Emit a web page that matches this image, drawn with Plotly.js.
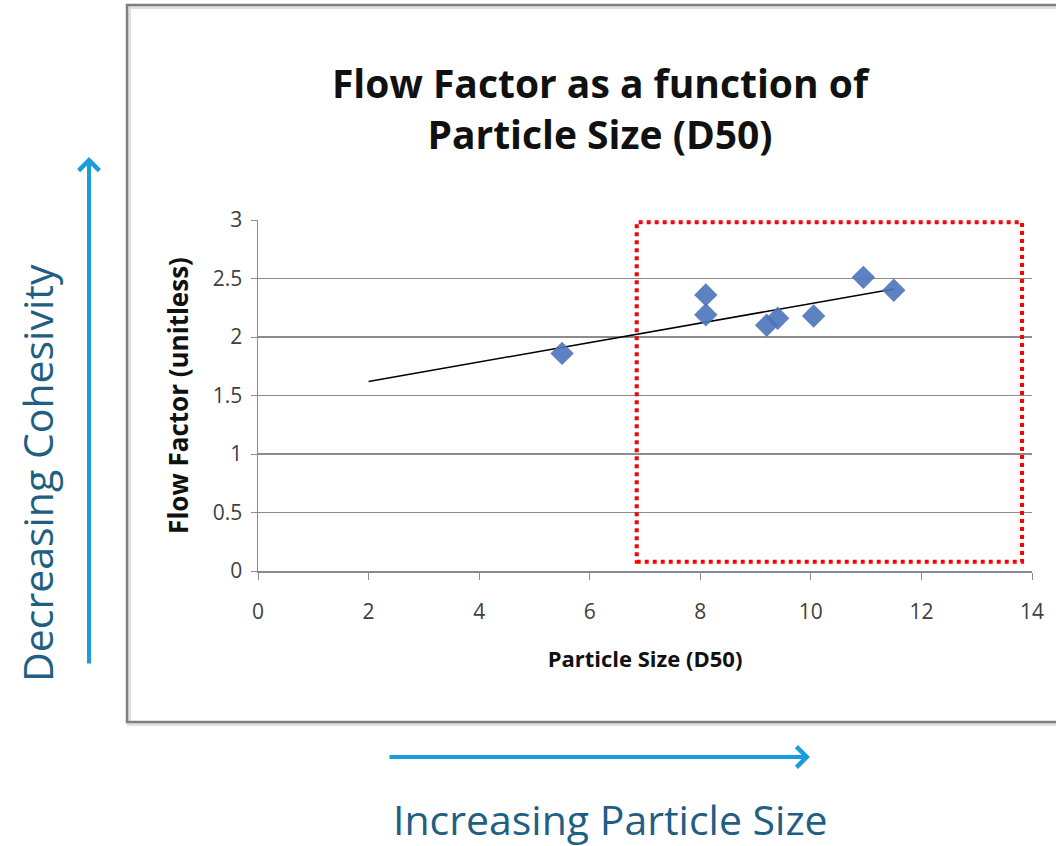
<!DOCTYPE html>
<html><head><meta charset="utf-8">
<script src="https://cdn.plot.ly/plotly-3.0.1.min.js"></script>
<style>html,body{margin:0;padding:0;background:#fff;overflow:hidden}#chart{width:1056px;height:846px}</style>
</head><body><div id="chart"></div>
<script>
// ---- data ----
const particleSize = [5.5, 8.1, 8.1, 9.2, 9.4, 10.05, 10.95, 11.5];
const flowFactor   = [1.86, 2.36, 2.19, 2.10, 2.16, 2.18, 2.51, 2.40];
const trendX = [2, 11.5];
const trendY = [1.62, 2.41];
const xTickVals = [0, 2, 4, 6, 8, 10, 12, 14];
const yTickVals = [0, 0.5, 1, 1.5, 2, 2.5, 3];
const yTickText = ['0', '0.5', '1', '1.5', '2', '2.5', '3'];
const chartTitle = 'Flow Factor as a function of<br>Particle Size (D50)';
const xTitle = 'Particle Size (D50)';
const yTitle = 'Flow Factor (unitless)';
const sideLabel = 'Decreasing Cohesivity';
const bottomLabel = 'Increasing Particle Size';
const focusRegion = {x0: 6.85, x1: 13.82, y0: 0.08, y1: 2.98};

// ---- geometry ----
const W = 1056, H = 846;
const M = {l: 258, r: 24, t: 220, b: 275};
const PW = W - M.l - M.r, PH = H - M.t - M.b;
const px = v => (v - M.l) / PW;          // pixel x -> paper x
const py = v => (H - M.b - v) / PH;      // pixel y -> paper y

const chartFont = '"Open Sans", "Noto Sans", sans-serif';
const slideFont = '"Open Sans", "Noto Sans", sans-serif';
const arrowBlue = '#1B9DDB';
const slideText = '#1F5F84';

const traces = [
  {x: trendX, y: trendY, mode: 'lines', type: 'scatter',
   line: {color: '#000000', width: 1.5}, hoverinfo: 'skip'},
  {x: particleSize, y: flowFactor, mode: 'markers', type: 'scatter',
   marker: {symbol: 'diamond', size: 18, color: '#4A74BA', opacity: 0.9}}
];

const layout = {
  width: W, height: H, autosize: false,
  margin: M, showlegend: false,
  paper_bgcolor: '#ffffff', plot_bgcolor: '#ffffff',
  title: {text: chartTitle, x: px(600), xref: 'paper', xanchor: 'center',
          y: 1 - 98 / H, yref: 'container', yanchor: 'middle',
          font: {family: chartFont, size: 39, color: '#111111', weight: 'bold'}},
  xaxis: {range: [0, 14], tickvals: xTickVals, showgrid: false, zeroline: false,
          showline: true, linecolor: '#8a8a8a', linewidth: 1.5,
          ticks: 'outside', ticklen: 7, tickcolor: '#8a8a8a', ticklabelstandoff: 14,
          tickfont: {family: chartFont, size: 21, color: '#404040'},
          title: {text: xTitle, standoff: 28, font: {family: chartFont, size: 22, color: '#111111', weight: 'bold'}}},
  yaxis: {range: [0, 3], tickvals: yTickVals, ticktext: yTickText,
          showgrid: true, gridcolor: '#8c8c8c', gridwidth: 1.2, zeroline: false,
          showline: true, linecolor: '#8a8a8a', linewidth: 1.5,
          ticks: 'outside', ticklen: 6, tickcolor: '#8a8a8a', ticklabelstandoff: 4,
          tickfont: {family: chartFont, size: 21, color: '#404040'},
          title: {text: yTitle, standoff: 16, font: {family: chartFont, size: 26, color: '#111111', weight: 'bold'}}},
  shapes: [
    {type: 'rect', xref: 'paper', yref: 'paper', x0: px(129), x1: px(1070), y0: py(724), y1: py(7),
     line: {color: 'rgba(0,0,0,0.12)', width: 4}, fillcolor: 'rgba(0,0,0,0)', layer: 'below'},
    {type: 'rect', xref: 'paper', yref: 'paper', x0: px(127), x1: px(1070), y0: py(722), y1: py(5),
     line: {color: '#7f7f7f', width: 2.5}, fillcolor: 'rgba(0,0,0,0)', layer: 'below'},
    {type: 'rect', xref: 'x', yref: 'y', x0: focusRegion.x0, x1: focusRegion.x1,
     y0: focusRegion.y0, y1: focusRegion.y1,
     line: {color: '#FF0000', width: 4, dash: 'dot'}, fillcolor: 'rgba(0,0,0,0)'}
  ],
  annotations: [
    {xref: 'paper', yref: 'paper', x: px(89), y: py(157), ax: 0, ay: 665 - 157,
     axref: 'pixel', ayref: 'pixel', text: '', showarrow: true,
     arrowhead: 4, arrowsize: 1, arrowwidth: 4, arrowcolor: arrowBlue},
    {xref: 'paper', yref: 'paper', x: px(810), y: py(757), ax: 388 - 810, ay: 0,
     axref: 'pixel', ayref: 'pixel', text: '', showarrow: true,
     arrowhead: 4, arrowsize: 1, arrowwidth: 4, arrowcolor: arrowBlue},
    {xref: 'paper', yref: 'paper', x: px(37), y: py(473), text: sideLabel, showarrow: false,
     textangle: -90, xanchor: 'center', yanchor: 'middle',
     font: {family: slideFont, size: 41, color: slideText}},
    {xref: 'paper', yref: 'paper', x: px(610), y: py(819), text: bottomLabel, showarrow: false,
     xanchor: 'center', yanchor: 'middle',
     font: {family: slideFont, size: 41, color: slideText}}
  ]
};

Plotly.newPlot('chart', traces, layout, {displayModeBar: false, staticPlot: true});
</script></body></html>
